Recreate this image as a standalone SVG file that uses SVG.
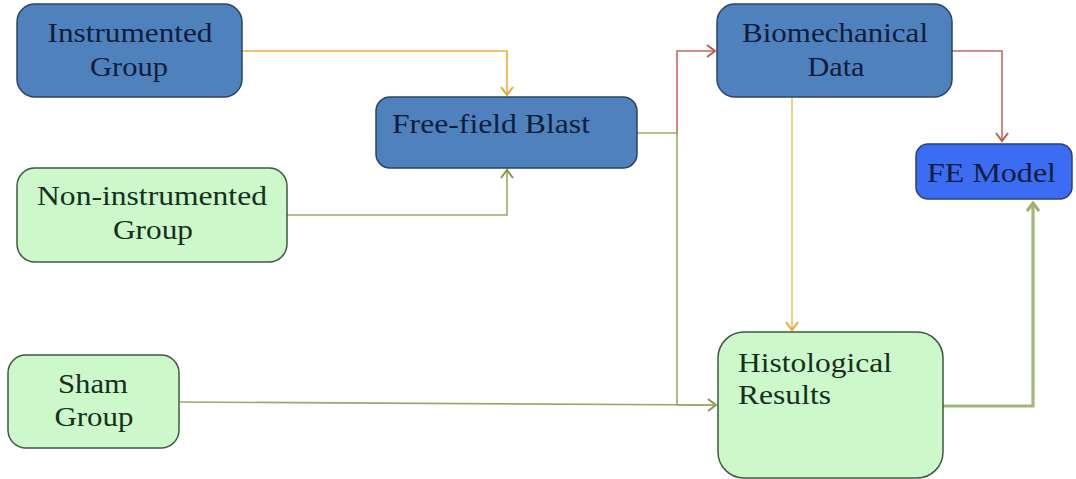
<svg xmlns="http://www.w3.org/2000/svg" width="1076" height="479" viewBox="0 0 1076 479">
<style>
.blue{fill:#4f81bd;stroke:#2a4466;stroke-width:1.5}
.fe{fill:#3b6cf2;stroke:#27407a;stroke-width:1.5}
.green{fill:#ccf8cc;stroke:#3e5a3e;stroke-width:1.5}
.t{font-family:"Liberation Serif","Times New Roman",Times,serif;font-size:28px}
.tb{fill:#0f1d3d}
.tg{fill:#16301a}
.c{fill:none;stroke-width:1.6}
.or{stroke:#efae3a}
.ye{stroke:#e8c867}
.rd{stroke:#c66a63}
.gr{stroke:#9aab66}
.gt{stroke:#a3b878;stroke-width:3.2}
</style>
<defs>
<marker id="aO" markerWidth="14" markerHeight="14" refX="11" refY="7" orient="auto" markerUnits="userSpaceOnUse"><polyline points="3,1 11,7 3,13" fill="none" stroke="#efa62a" stroke-width="2"/></marker>
<marker id="aR" markerWidth="14" markerHeight="14" refX="11" refY="7" orient="auto" markerUnits="userSpaceOnUse"><polyline points="3,1 11,7 3,13" fill="none" stroke="#c45a52" stroke-width="2"/></marker>
<marker id="aG" markerWidth="14" markerHeight="14" refX="11" refY="7" orient="auto" markerUnits="userSpaceOnUse"><polyline points="3,1 11,7 3,13" fill="none" stroke="#7f9a4e" stroke-width="2"/></marker>
<marker id="aGT" markerWidth="16" markerHeight="16" refX="12" refY="8" orient="auto" markerUnits="userSpaceOnUse"><polyline points="4,2 12,8 4,14" fill="none" stroke="#9ab26a" stroke-width="3"/></marker>
</defs>
<g id="connectors">
<polyline class="c or" points="242,51 507,51 507,95" marker-end="url(#aO)"/>
<polyline class="c gr" points="287,215 507,215 507,170" marker-end="url(#aG)"/>
<polyline class="c gr" points="637,133 677,133"/>
<polyline class="c rd" points="677,133 677,51 715,51" marker-end="url(#aR)"/>
<polyline class="c gr" points="677,133 677,405 716,405" marker-end="url(#aG)"/>
<line class="c gr" x1="180" y1="402" x2="716" y2="405"/>
<polyline class="c rd" points="952,51 1002,51 1002,141" marker-end="url(#aR)"/>
<polyline class="c ye" points="792,97 792,330" marker-end="url(#aO)"/>
<polyline class="c gt" points="943,406 1033,406 1033,203" marker-end="url(#aGT)"/>
</g>
<g id="instrumented">
<rect class="blue" x="17" y="4" width="225" height="93" rx="18"/>
<text class="t tb" x="130" y="42" text-anchor="middle" textLength="165" lengthAdjust="spacingAndGlyphs">Instrumented</text>
<text class="t tb" x="129" y="76" text-anchor="middle" textLength="78" lengthAdjust="spacingAndGlyphs">Group</text>
</g>
<g id="freefield">
<rect class="blue" x="376" y="97" width="261" height="71" rx="14"/>
<text class="t tb" x="392" y="133" textLength="198" lengthAdjust="spacingAndGlyphs">Free-field Blast</text>
</g>
<g id="noninstrumented">
<rect class="green" x="17" y="168" width="270" height="94" rx="18"/>
<text class="t tg" x="152" y="205" text-anchor="middle" textLength="230" lengthAdjust="spacingAndGlyphs">Non-instrumented</text>
<text class="t tg" x="153" y="239" text-anchor="middle" textLength="80" lengthAdjust="spacingAndGlyphs">Group</text>
</g>
<g id="sham">
<rect class="green" x="8" y="355" width="171" height="93" rx="18"/>
<text class="t tg" x="93" y="393" text-anchor="middle" textLength="70" lengthAdjust="spacingAndGlyphs">Sham</text>
<text class="t tg" x="94" y="426" text-anchor="middle" textLength="79" lengthAdjust="spacingAndGlyphs">Group</text>
</g>
<g id="biomechanical">
<rect class="blue" x="717" y="4" width="235" height="93" rx="18"/>
<text class="t tb" x="835" y="42" text-anchor="middle" textLength="186" lengthAdjust="spacingAndGlyphs">Biomechanical</text>
<text class="t tb" x="836" y="76" text-anchor="middle" textLength="57" lengthAdjust="spacingAndGlyphs">Data</text>
</g>
<g id="femodel">
<rect class="fe" x="916" y="144" width="156" height="55" rx="12"/>
<text class="t tb" x="927" y="182" textLength="129" lengthAdjust="spacingAndGlyphs">FE Model</text>
</g>
<g id="histological">
<rect class="green" x="718" y="332" width="225" height="146" rx="26"/>
<text class="t tg" x="738" y="372" textLength="154" lengthAdjust="spacingAndGlyphs">Histological</text>
<text class="t tg" x="738" y="404" textLength="93" lengthAdjust="spacingAndGlyphs">Results</text>
</g>
</svg>
